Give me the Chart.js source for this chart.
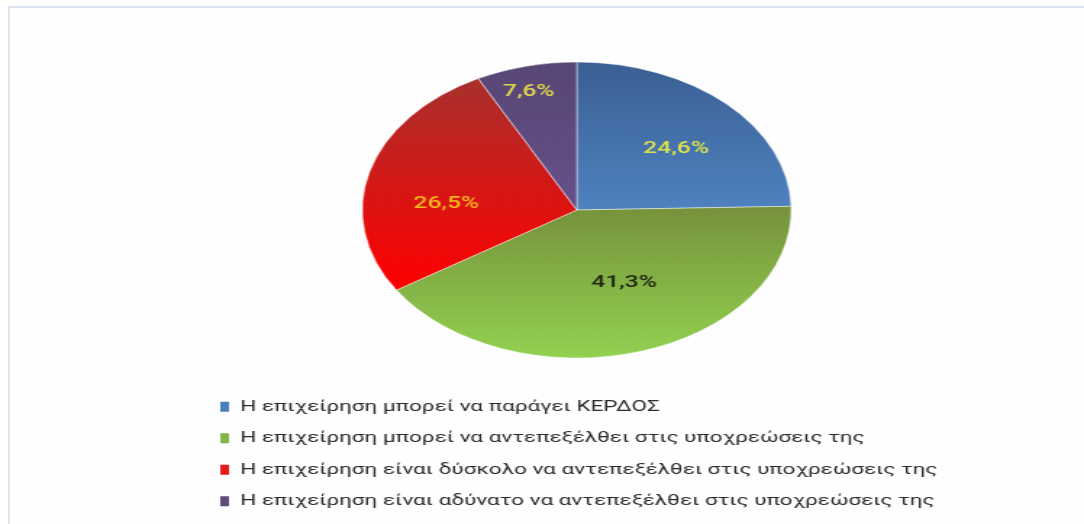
<!DOCTYPE html>
<html>
<head>
<meta charset="utf-8">
<script src="https://cdn.jsdelivr.net/npm/chart.js@4"></script>
<style>
  html, body { margin: 0; padding: 0; background: #ffffff; overflow: hidden; }
  .frame {
    position: absolute; left: 8px; top: 6px; width: 1076px; height: 518px;
    border-top: 2px solid #dbe5f2; border-left: 2px solid #dbe5f2; background: #fefeff;
  }
  /* the original picture is stretched sideways, so the chart is drawn narrow and widened */
  .stretch {
    position: absolute; left: 0; top: 0; width: 748px; height: 524px;
    transform: scaleX(1.4492); transform-origin: 0 0;
  }
</style>
</head>
<body>
<div class="frame"></div>
<div class="stretch"><canvas id="myChart"></canvas></div>
<script>
// ---------------- data ----------------
const categories = [
	'Η επιχείρηση μπορεί να παράγει ΚΕΡΔΟΣ',
	'Η επιχείρηση μπορεί να αντεπεξέλθει στις υποχρεώσεις της',
	'Η επιχείρηση είναι δύσκολο να αντεπεξέλθει στις υποχρεώσεις της',
	'Η επιχείρηση είναι αδύνατο να αντεπεξέλθει στις υποχρεώσεις της'
];
const shares = [24.6, 41.3, 26.5, 7.6];

// ---------------- styles ----------------
const legendColors = ['#4a7ebb', '#82b548', '#e31b1b', '#604a7b'];
const topColors = ['#3a5f93', '#76923c', '#a8302c', '#584675'];
const bottomColors = ['#4f82c0', '#93d151', '#ff0000', '#66508a'];
const labelColors = ['#dde24a', '#1c2612', '#f5b81e', '#e2d84a'];
const labelDist = [0.62, 0.54, 0.61, 0.83];
const labelShift = [4, -7, -11, -2];
const pieRadius = 148;

function labelText(v) {
	return v.toFixed(1).replace('.', ',') + '%';
}

// vertical gradient spanning the slice's own height
function sliceFill(context) {
	const chart = context.chart;
	const area = chart.chartArea;
	const i = context.dataIndex;
	if (!area) return legendColors[i];
	const cx = (area.left + area.right) / 2;
	const cy = (area.top + area.bottom) / 2;
	const total = shares.reduce((a, b) => a + b, 0);
	let start = -Math.PI / 2;
	for (let k = 0; k < i; k++) start += shares[k] / total * 2 * Math.PI;
	const end = start + shares[i] / total * 2 * Math.PI;
	let top = cy, bottom = cy;
	[start, end].forEach(a => {
		top = Math.min(top, cy + pieRadius * Math.sin(a));
		bottom = Math.max(bottom, cy + pieRadius * Math.sin(a));
	});
	if (start <= -Math.PI / 2 + 1e-6 || end >= 3 * Math.PI / 2 - 1e-6) top = cy - pieRadius;
	if (start <= Math.PI / 2 && end >= Math.PI / 2) bottom = cy + pieRadius;
	const g = chart.ctx.createLinearGradient(0, top, 0, bottom);
	g.addColorStop(0, topColors[i]);
	g.addColorStop(1, bottomColors[i]);
	return g;
}

const valueLabels = {
	id: 'valueLabels',
	afterDatasetsDraw(chart) {
		const ctx = chart.ctx;
		const meta = chart.getDatasetMeta(0);
		ctx.save();
		ctx.font = '500 17px Roboto';
		ctx.textAlign = 'center';
		ctx.textBaseline = 'middle';
		meta.data.forEach((arc, i) => {
			const a = (arc.startAngle + arc.endAngle) / 2 + labelShift[i] * Math.PI / 180;
			const r = arc.outerRadius * labelDist[i];
			ctx.fillStyle = labelColors[i];
			ctx.fillText(labelText(shares[i]), arc.x + Math.cos(a) * r, arc.y + Math.sin(a) * r);
		});
		ctx.restore();
	}
};

const ctx = document.getElementById('myChart');
const myChart = new Chart(ctx, {
	type: 'pie',
	data: {
		labels: categories,
		datasets: [{
			data: shares,
			backgroundColor: sliceFill,
			borderColor: 'rgba(255,255,255,0.45)',
			borderWidth: 1,
			radius: pieRadius
		}]
	},
	options: {
		responsive: true,
		maintainAspectRatio: false,
		animation: false,
		layout: {
			padding: { top: 37, bottom: 5, left: 136, right: 88 }
		},
		plugins: {
			tooltip: { enabled: false },
			legend: {
				position: 'bottom',
				align: 'start',
				labels: {
					boxWidth: 6,
					boxHeight: 10,
					padding: 16,
					color: '#2b2b2b',
					font: { family: 'Roboto', size: 15.5 },
					generateLabels: function (chart) {
						const items = Chart.overrides.pie.plugins.legend.labels.generateLabels(chart);
						items.forEach((it, i) => {
							it.fillStyle = legendColors[i];
							it.strokeStyle = legendColors[i];
							it.lineWidth = 0;
						});
						return items;
					}
				}
			}
		}
	},
	plugins: [valueLabels]
});
</script>
</body>
</html>
